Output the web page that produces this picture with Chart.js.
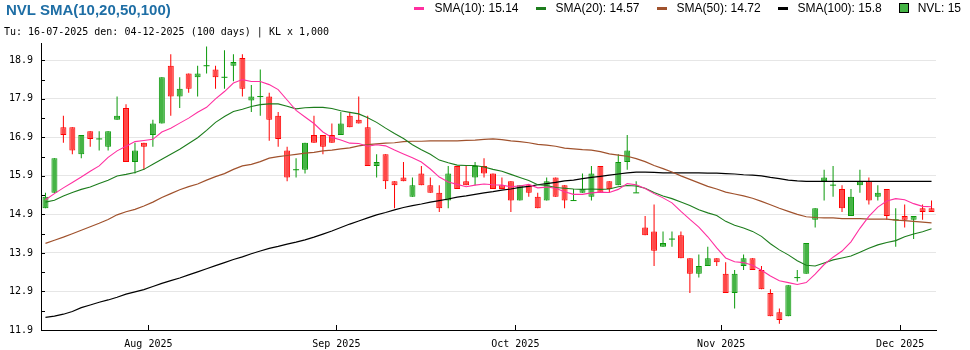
<!DOCTYPE html>
<html>
<head>
<meta charset="utf-8">
<title>NVL SMA(10,20,50,100)</title>
<script src="https://cdn.jsdelivr.net/npm/chart.js@4.4.1/dist/chart.umd.min.js"></script>
<style>
  body { margin: 0; background: #fff; }
  #wrap { position: relative; width: 970px; height: 350px; overflow: hidden; }
  #chart { position: absolute; left: 0; top: 0; }
  .title { position: absolute; left: 6px; top: 1px; font: bold 15px "Liberation Sans", Arial, sans-serif; color: #1e6ea5; white-space: nowrap; }
  .sub { position: absolute; left: 4px; top: 26px; font: 10px "DejaVu Sans Mono", monospace; line-height: 12px; white-space: nowrap; }
  #legend { position: absolute; right: 9px; top: 1px; display: flex; align-items: center; height: 14px;
            font: 12px "Liberation Sans", Arial, sans-serif; line-height: 14px; white-space: nowrap; }
  #legend .item { display: flex; align-items: center; margin-left: 17px; }
  #legend .dash { width: 10px; height: 3px; margin-right: 10px; }
  #legend .box { width: 8px; height: 8px; border: 1px solid #000; margin-right: 9px; }
</style>
</head>
<body>
<div id="wrap">
  <canvas id="chart" width="970" height="350"></canvas>
  <div class="title">NVL SMA(10,20,50,100)</div>
  <div class="sub">Tu: 16-07-2025 den: 04-12-2025 (100 days) | KL x 1,000</div>
  <div id="legend"></div>
</div>
<script>
// NVL daily prices (x 1,000 VND), 100 sessions from 16-07-2025 to 04-12-2025
const openP = [
  15.1, 15.5, 17.2, 17.2, 16.5, 17.1, 16.9, 16.7, 17.4, 17.7,
  16.3, 16.8, 17.0, 17.3, 18.8, 18.0, 18.6, 18.5, 18.8, 18.7,
  18.5, 18.8, 19.0, 17.9, 18.0, 18.0, 17.5, 16.6, 16.1, 16.1,
  17.0, 17.0, 17.0, 17.0, 17.5, 17.4, 17.2, 16.2, 16.5, 15.8,
  15.9, 15.4, 16.0, 15.7, 15.5, 15.3, 16.2, 15.8, 15.9, 16.2,
  16.0, 15.7, 15.8, 15.3, 15.7, 15.4, 15.3, 15.9, 15.7, 15.3,
  15.5, 15.4, 16.2, 15.8, 15.7, 16.3, 15.5, 14.6, 14.5, 14.1,
  14.3, 14.4, 13.8, 13.4, 13.6, 13.8, 13.4, 12.9, 13.6, 13.8,
  13.5, 12.9, 12.4, 12.3, 13.3, 13.4, 14.8, 15.8, 15.7, 15.6,
  14.9, 15.7, 15.8, 15.4, 15.6, 14.8, 14.9, 14.8, 15.1, 15.1
];
const highP = [
  15.5, 16.4, 17.5, 17.2, 17.0, 17.1, 17.1, 17.1, 18.0, 17.8,
  16.8, 16.8, 17.4, 18.5, 19.1, 18.5, 18.6, 18.8, 19.3, 18.8,
  19.2, 19.1, 19.1, 18.3, 18.7, 18.1, 17.6, 16.7, 16.4, 16.8,
  17.5, 17.0, 17.3, 17.6, 17.6, 18.0, 17.5, 16.5, 16.5, 15.8,
  16.3, 15.9, 16.2, 15.9, 15.7, 16.2, 16.2, 16.2, 16.3, 16.4,
  16.0, 15.9, 15.8, 15.7, 15.7, 15.5, 15.9, 15.9, 15.7, 15.6,
  16.0, 16.2, 16.2, 15.8, 16.5, 17.0, 15.8, 14.9, 15.2, 14.5,
  14.5, 14.5, 13.8, 13.9, 14.1, 13.8, 13.7, 13.5, 13.9, 13.8,
  13.6, 13.0, 12.5, 13.1, 13.5, 14.2, 15.1, 16.1, 16.2, 15.7,
  15.6, 16.1, 15.9, 15.7, 15.6, 15.1, 15.2, 14.9, 15.2, 15.3
];
const lowP = [
  15.1, 15.5, 16.8, 16.5, 16.4, 16.7, 16.6, 16.6, 17.4, 16.3,
  16.0, 16.1, 16.7, 17.3, 17.5, 17.7, 18.1, 18.0, 18.6, 18.2,
  18.2, 18.4, 18.0, 17.6, 17.5, 16.85, 16.7, 15.8, 15.9, 16.0,
  16.8, 16.5, 16.8, 17.0, 17.2, 17.3, 16.2, 15.9, 15.6, 15.1,
  15.8, 15.4, 15.7, 15.5, 15.0, 15.1, 15.6, 15.7, 15.7, 15.9,
  15.6, 15.6, 15.0, 15.3, 15.4, 15.1, 15.3, 15.4, 15.1, 15.3,
  15.5, 15.3, 15.5, 15.5, 15.7, 16.1, 15.5, 14.4, 13.6, 14.1,
  14.1, 13.8, 12.9, 13.3, 13.6, 13.6, 12.9, 12.5, 13.5, 13.5,
  13.0, 12.3, 12.1, 12.3, 13.2, 13.4, 14.6, 15.3, 15.4, 15.0,
  14.9, 15.5, 15.2, 15.3, 14.8, 14.1, 14.6, 14.3, 14.8, 15.0
];
const closeP = [
  15.4, 16.4, 17.0, 16.6, 17.0, 16.9, 16.9, 17.1, 17.5, 16.3,
  16.6, 16.7, 17.3, 18.5, 18.0, 18.2, 18.2, 18.6, 18.8, 18.5,
  18.5, 18.9, 18.2, 18.0, 18.0, 17.4, 16.9, 15.9, 16.1, 16.8,
  16.8, 16.7, 16.8, 17.3, 17.2, 17.3, 16.2, 16.3, 15.8, 15.7,
  15.8, 15.7, 15.7, 15.5, 15.1, 16.0, 15.6, 15.7, 16.2, 16.0,
  15.6, 15.6, 15.3, 15.7, 15.5, 15.1, 15.8, 15.4, 15.3, 15.3,
  15.6, 16.0, 15.5, 15.6, 16.3, 16.6, 15.5, 14.4, 14.0, 14.2,
  14.3, 13.8, 13.4, 13.6, 13.8, 13.7, 12.9, 13.4, 13.8, 13.5,
  13.0, 12.3, 12.2, 13.1, 13.3, 14.2, 15.1, 15.9, 15.7, 15.1,
  15.4, 15.8, 15.3, 15.5, 14.9, 14.8, 14.8, 14.9, 15.0, 15.0
];

// moving averages as plotted
const sma10 = [
  15.32, 15.48, 15.63, 15.77, 15.91, 16.06, 16.20, 16.42, 16.59, 16.71,
  16.83, 16.86, 16.89, 17.08, 17.18, 17.31, 17.44, 17.59, 17.72, 17.94,
  18.13, 18.35, 18.44, 18.39, 18.39, 18.31, 18.18, 17.91, 17.64, 17.47,
  17.30, 17.08, 16.94, 16.87, 16.79, 16.78, 16.71, 16.75, 16.72, 16.61,
  16.51, 16.41, 16.30, 16.12, 15.91, 15.78, 15.72, 15.66, 15.70, 15.73,
  15.71, 15.70, 15.66, 15.68, 15.72, 15.63, 15.65, 15.62, 15.53, 15.46,
  15.46, 15.50, 15.52, 15.51, 15.59, 15.74, 15.71, 15.61, 15.48, 15.37,
  15.24, 15.02, 14.81, 14.61, 14.36, 14.07, 13.81, 13.71, 13.69, 13.62,
  13.49, 13.34, 13.22, 13.17, 13.12, 13.17, 13.39, 13.64, 13.83, 13.99,
  14.23, 14.58, 14.89, 15.13, 15.29, 15.35, 15.32, 15.22, 15.15, 15.14
];
const sma20 = [
  15.26, 15.31, 15.42, 15.51, 15.59, 15.65, 15.74, 15.83, 15.94, 15.98,
  16.03, 16.11, 16.24, 16.37, 16.50, 16.63, 16.78, 16.93, 17.12, 17.33,
  17.48, 17.61, 17.67, 17.74, 17.79, 17.81, 17.81, 17.75, 17.68, 17.71,
  17.72, 17.72, 17.69, 17.63, 17.59, 17.55, 17.45, 17.33, 17.18, 17.04,
  16.91, 16.75, 16.62, 16.50, 16.35, 16.28, 16.22, 16.21, 16.21, 16.17,
  16.11, 16.06, 15.98, 15.90, 15.82, 15.71, 15.69, 15.64, 15.62, 15.60,
  15.59, 15.60, 15.59, 15.60, 15.66, 15.69, 15.68, 15.62, 15.51, 15.42,
  15.35, 15.26, 15.17, 15.06, 14.98, 14.91, 14.76, 14.66, 14.59, 14.50,
  14.37, 14.18, 14.02, 13.89, 13.74, 13.62, 13.60, 13.68, 13.76, 13.81,
  13.86, 13.96, 14.06, 14.15, 14.21, 14.26, 14.36, 14.43, 14.49, 14.57
];
const sma50 = [
  14.19, 14.27, 14.35, 14.44, 14.53, 14.62, 14.71, 14.81, 14.93, 15.01,
  15.07, 15.16, 15.26, 15.38, 15.48, 15.58, 15.66, 15.73, 15.83, 15.92,
  16.00, 16.11, 16.20, 16.24, 16.31, 16.40, 16.44, 16.47, 16.50, 16.53,
  16.55, 16.59, 16.61, 16.64, 16.67, 16.72, 16.75, 16.77, 16.79, 16.80,
  16.83, 16.84, 16.84, 16.85, 16.85, 16.85, 16.85, 16.86, 16.87, 16.89,
  16.90, 16.88, 16.85, 16.83, 16.80, 16.76, 16.74, 16.71, 16.66, 16.64,
  16.62, 16.61, 16.57, 16.51, 16.48, 16.45, 16.39, 16.31, 16.21, 16.13,
  16.04, 15.94, 15.85, 15.76, 15.67, 15.60, 15.52, 15.47, 15.42, 15.36,
  15.28, 15.19, 15.10, 15.02, 14.94, 14.88, 14.86, 14.85, 14.85, 14.83,
  14.83, 14.83, 14.82, 14.82, 14.82, 14.79, 14.78, 14.76, 14.74, 14.72
];
const sma100 = [
  12.27, 12.30, 12.35, 12.42, 12.52, 12.59, 12.66, 12.72, 12.79, 12.87,
  12.93, 12.99, 13.07, 13.15, 13.22, 13.29, 13.37, 13.45, 13.53, 13.61,
  13.69, 13.77, 13.84, 13.92, 13.99, 14.06, 14.11, 14.17, 14.22, 14.28,
  14.35, 14.43, 14.51, 14.60, 14.69, 14.77, 14.85, 14.93, 14.99, 15.06,
  15.12, 15.17, 15.21, 15.26, 15.30, 15.34, 15.39, 15.42, 15.46, 15.50,
  15.53, 15.57, 15.60, 15.64, 15.67, 15.71, 15.74, 15.77, 15.81, 15.83,
  15.87, 15.90, 15.93, 15.96, 15.99, 16.02, 16.04, 16.04, 16.03, 16.02,
  16.02, 16.02, 16.02, 16.02, 16.01, 16.01, 16.00, 15.99, 15.97, 15.96,
  15.94, 15.90, 15.87, 15.83, 15.81, 15.80, 15.80, 15.80, 15.80, 15.80,
  15.80, 15.80, 15.80, 15.80, 15.80, 15.80, 15.80, 15.80, 15.80, 15.80
];

// first session of each month (index) and its axis label
const monthStarts = [12, 33, 53, 76, 96];
const monthLabels = ['Aug 2025', 'Sep 2025', 'Oct 2025', 'Nov 2025', 'Dec 2025'];
// labelled price levels (shown with one decimal)
const yTicks = [11.94, 12.94, 13.94, 14.94, 15.94, 16.94, 17.94, 18.94];

const UP = '#0a990a', UP_FILL = '#45b445';
const DOWN = '#ff0000', DOWN_FILL = '#ff4848';
const C_SMA10 = '#ff2fa0', C_SMA20 = '#1d7d1d', C_SMA50 = '#a0522d', C_SMA100 = '#000000';

const Y_MIN = 11.94, Y_MAX = 19.39;
const yAll = [];
yTicks.forEach(v => { yAll.push(v); if (v + 0.5 < Y_MAX) yAll.push(+(v + 0.5).toFixed(2)); });
const isMajor = v => yTicks.some(t => Math.abs(t - v) < 1e-6);

const idx = closeP.map((_, i) => i);
const isUp = i => closeP[i] >= openP[i];
const pts = arr => arr.map((v, i) => ({x: i, y: v}));

const bodyData = idx.filter(i => openP[i] !== closeP[i]).map(i => ({x: i, y: [openP[i], closeP[i]]}));
const wickData = idx.map(i => ({x: i, y: [lowP[i], highP[i]]}));
const dojiData = idx.filter(i => openP[i] === closeP[i]).map(i => ({x: i, y: closeP[i]}));

// legend row
const legendItems = [
  {name: 'SMA(10)', color: C_SMA10, last: sma10[99]},
  {name: 'SMA(20)', color: C_SMA20, last: sma20[99]},
  {name: 'SMA(50)', color: C_SMA50, last: sma50[99]},
  {name: 'SMA(100)', color: C_SMA100, last: sma100[99]},
  {name: 'NVL', color: UP_FILL, last: closeP[99], box: true}
];
document.getElementById('legend').innerHTML = legendItems.map(it =>
  '<div class="item"><span class="' + (it.box ? 'box' : 'dash') + '" style="background:' + it.color + '"></span>' +
  it.name + ': ' + (+it.last.toFixed(2)) + '</div>').join('');

// short inward tick marks on both axes
const innerTicks = {
  id: 'innerTicks',
  afterDatasetsDraw(chart) {
    const {ctx, chartArea: a, scales: {x, y}} = chart;
    ctx.save();
    ctx.strokeStyle = '#000';
    ctx.lineWidth = 1;
    ctx.beginPath();
    yAll.forEach(v => {
      const py = Math.round(y.getPixelForValue(v)) + 0.5;
      ctx.moveTo(a.left, py);
      ctx.lineTo(a.left + 4, py);
    });
    monthStarts.forEach(i => {
      const px = Math.round(x.getPixelForValue(i - 0.5)) + 0.5;
      ctx.moveTo(px, a.bottom);
      ctx.lineTo(px, a.bottom - 5);
    });
    ctx.stroke();
    ctx.restore();
  }
};

Chart.defaults.font.family = '"DejaVu Sans Mono", monospace';
Chart.defaults.font.size = 10;
Chart.defaults.color = '#000';

new Chart(document.getElementById('chart'), {
  type: 'bar',
  data: {
    datasets: [
      {type: 'line', label: 'SMA(10)', data: pts(sma10), borderColor: C_SMA10, borderWidth: 1.1, pointRadius: 0, order: 0},
      {type: 'line', label: 'SMA(20)', data: pts(sma20), borderColor: C_SMA20, borderWidth: 1.1, pointRadius: 0, order: 0},
      {type: 'line', label: 'SMA(50)', data: pts(sma50), borderColor: C_SMA50, borderWidth: 1.2, pointRadius: 0, order: 0},
      {type: 'line', label: 'SMA(100)', data: pts(sma100), borderColor: C_SMA100, borderWidth: 1.2, pointRadius: 0, order: 0},
      {type: 'line', label: 'doji', data: dojiData, showLine: false, pointStyle: 'line',
       pointRadius: 3, pointBorderWidth: 1, pointBorderColor: UP, order: 1},
      {label: 'body', data: bodyData, grouped: false, barThickness: 6, borderWidth: 1,
       borderSkipped: false, inflateAmount: 0, order: 2,
       backgroundColor: c => (c.raw && c.raw.y[1] < c.raw.y[0]) ? DOWN_FILL : UP_FILL,
       borderColor: c => (c.raw && c.raw.y[1] < c.raw.y[0]) ? DOWN : UP},
      {label: 'wick', data: wickData, grouped: false, barThickness: 1, borderWidth: 0,
       inflateAmount: 0, order: 3,
       backgroundColor: c => (c.raw && !isUp(c.raw.x)) ? DOWN : UP}
    ]
  },
  options: {
    responsive: false,
    animation: false,
    events: [],
    layout: {padding: {top: 43, right: 34, left: 0, bottom: 0}},
    plugins: {legend: {display: false}, tooltip: {enabled: false}},
    scales: {
      x: {
        type: 'linear', min: -0.5, max: 99.5, offset: false,
        grid: {display: false, offset: false},
        border: {color: '#000', width: 1},
        afterBuildTicks: s => { s.ticks = monthStarts.map(i => ({value: i - 0.5})); },
        afterFit: s => { s.height = 20; },
        ticks: {callback: (v, k) => monthLabels[k], padding: 0, maxRotation: 0, autoSkip: false}
      },
      y: {
        min: Y_MIN, max: Y_MAX, beginAtZero: false,
        afterBuildTicks: s => { s.ticks = yAll.map(v => ({value: v})); },
        afterFit: s => { s.width = 41; },
        grid: {color: c => (c.tick && isMajor(c.tick.value)) ? '#e6e6e6' : 'rgba(0,0,0,0)', drawTicks: false},
        border: {color: '#000', width: 1},
        ticks: {callback: v => isMajor(v) ? v.toFixed(1) : '', padding: 8}
      }
    }
  },
  plugins: [innerTicks]
});
</script>
</body>
</html>
